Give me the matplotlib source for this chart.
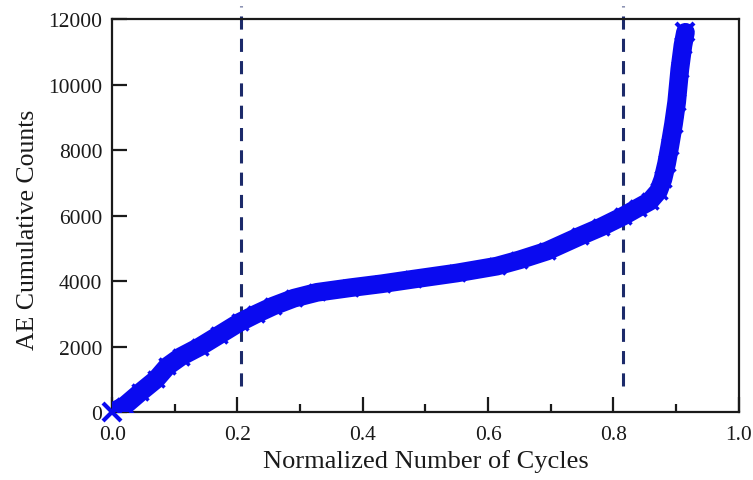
import matplotlib.pyplot as plt

plt.rcParams["font.family"] = ["Liberation Serif", "DejaVu Serif"]

# courbe (cycles normalisés, comptage AE cumulé)
cycles = [0.0, 0.02, 0.045, 0.07, 0.088, 0.11, 0.14, 0.17, 0.204, 0.23,
          0.257, 0.29, 0.327, 0.38, 0.43, 0.48, 0.55, 0.614, 0.65, 0.694,
          0.746, 0.78, 0.815, 0.84, 0.858, 0.872, 0.879, 0.885, 0.89, 0.896,
          0.901, 0.906, 0.911, 0.915]
counts = [0, 200, 610, 1000, 1400, 1700, 2000, 2350, 2750, 3000,
          3240, 3480, 3660, 3800, 3920, 4060, 4250, 4460, 4650, 4920,
          5370, 5650, 5980, 6250, 6440, 6750, 7110, 7600, 8120, 8800,
          9470, 10470, 11200, 11600]

# limites des stades (lignes pointillées)
stage_bounds = [0.206, 0.815]
xticks = [0.0, 0.2, 0.4, 0.6, 0.8, 1.0]
yticks = [0, 2000, 4000, 6000, 8000, 10000, 12000]

BLUE = "#0a0af0"
NAVY = "#1c2a6a"
INK = "#1a1a1a"

fig = plt.figure(figsize=(7.53, 4.81), dpi=100)
ax = fig.add_axes([0.149, 0.141, 0.832, 0.817])

ax.plot(cycles, counts, color=BLUE, linewidth=13.5, solid_capstyle="round",
        solid_joinstyle="round", zorder=3)
# marqueurs intérieurs noyés dans le trait, croix visibles aux extrémités
ax.plot(cycles[1:-1], counts[1:-1], linestyle="none", marker="x",
        markersize=11, markeredgewidth=2.5, color=BLUE, zorder=4)
ax.plot([cycles[0], cycles[-1]], [counts[0], counts[-1]], linestyle="none",
        marker="x", markersize=13, markeredgewidth=3, color=BLUE, zorder=4,
        clip_on=False)

for xb in stage_bounds:
    ax.plot([xb, xb], [800, 12400], color=NAVY, linewidth=2.2,
            dashes=(4.3, 3), clip_on=False, zorder=2)

ax.set_xlim(0, 1.0)
ax.set_ylim(0, 12000)
ax.set_xticks(xticks)
ax.set_xticklabels([f"{t:.1f}" for t in xticks])
ax.set_xticks([0.1, 0.3, 0.5, 0.7, 0.9], minor=True)
ax.set_yticks(yticks)
ax.set_yticklabels([str(t) for t in yticks])

ax.tick_params(axis="both", which="major", direction="in", length=11,
               width=1.6, labelsize=15.5, top=False, right=False, colors=INK)
ax.tick_params(axis="x", which="minor", direction="in", length=5.5,
               width=1.6, top=False, colors=INK)
ax.tick_params(axis="y", pad=7)
ax.tick_params(axis="x", pad=9)
for sp in ax.spines.values():
    sp.set_linewidth(1.6)
    sp.set_color(INK)

ax.set_xlabel("Normalized Number of Cycles", fontsize=19, color=INK)
ax.set_ylabel("AE Cumulative Counts", fontsize=18.5, color=INK)
ax.xaxis.set_label_coords(0.5, -0.095)
ax.yaxis.set_label_coords(-0.117, 0.466)

fig.savefig("out.png", dpi=100)
